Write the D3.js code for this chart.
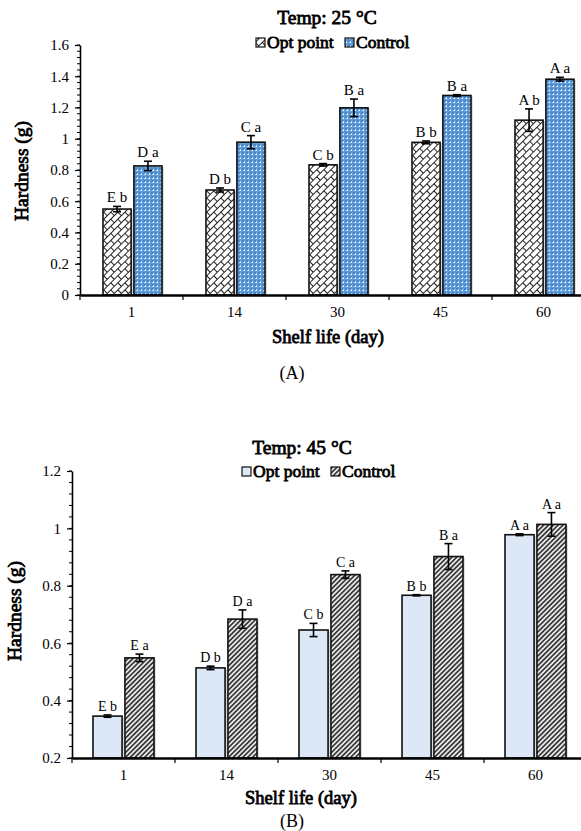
<!DOCTYPE html>
<html>
<head>
<meta charset="utf-8">
<script src="https://cdn.jsdelivr.net/npm/d3@7"></script>
<style>
  html, body { margin: 0; padding: 0; background: #fff; }
  svg { display: block; }
  text { font-family: "Liberation Serif", "Times New Roman", serif; fill: #000; }
  text.heavy { font-weight: normal; stroke: #000; stroke-width: 0.8px; paint-order: stroke; }
</style>
</head>
<body>
<svg id="chart" width="581" height="831"></svg>
<script>
// Shelf-life days (shared x categories)
const days = ["1", "14", "30", "45", "60"];
const seriesNames = ["Opt point", "Control"];

// Panel A: 25 °C
const optA = [0.55, 0.672, 0.833, 0.977, 1.119];
const optAErr = [0.017, 0.013, 0.008, 0.009, 0.072];
const ctrlA = [0.826, 0.978, 1.198, 1.277, 1.381];
const ctrlAErr = [0.03, 0.042, 0.056, 0.005, 0.012];
const optALetters = ["E b", "D b", "C b", "B b", "A b"];
const ctrlALetters = ["D a", "C a", "B a", "B a", "A a"];
const yTicksA = [0, 0.2, 0.4, 0.6, 0.8, 1, 1.2, 1.4, 1.6];

// Panel B: 45 °C
const optB = [0.346, 0.514, 0.646, 0.767, 0.978];
const optBErr = [0.004, 0.006, 0.023, 0.002, 0.003];
const ctrlB = [0.549, 0.684, 0.839, 0.902, 1.014];
const ctrlBErr = [0.013, 0.032, 0.013, 0.045, 0.041];
const optBLetters = ["E b", "D b", "C b", "B b", "A a"];
const ctrlBLetters = ["E a", "D a", "C a", "B a", "A a"];
const yTicksB = [0.2, 0.4, 0.6, 0.8, 1, 1.2];

const svg = d3.select("#chart");
const defs = svg.append("defs");

// Diagonal brick hatch
const brick = defs.append("pattern")
  .attr("id", "brick").attr("patternUnits", "userSpaceOnUse")
  .attr("width", 10).attr("height", 10)
  .attr("patternTransform", "rotate(-45)");
brick.append("rect").attr("width", 10).attr("height", 10).attr("fill", "#fff");
brick.append("path")
  .attr("d", "M0,0.5H10M0,5.5H10M0.5,0V5.5M5.5,5.5V10")
  .attr("stroke", "#222").attr("stroke-width", 1).attr("fill", "none");

// Blue dotted grid
const dots = defs.append("pattern")
  .attr("id", "bluedots").attr("patternUnits", "userSpaceOnUse")
  .attr("width", 4).attr("height", 4);
dots.append("rect").attr("width", 4).attr("height", 4).attr("fill", "#5d9ad8");
dots.append("rect").attr("x", 0).attr("y", 0).attr("width", 2).attr("height", 2).attr("fill", "#4a86c8");
dots.append("rect").attr("x", 2).attr("y", 2).attr("width", 1).attr("height", 1).attr("fill", "#ffffff");
dots.append("rect").attr("x", 1).attr("y", 2).attr("width", 1).attr("height", 1).attr("fill", "#a9cdf0");
dots.append("rect").attr("x", 2).attr("y", 1).attr("width", 1).attr("height", 1).attr("fill", "#a9cdf0");

// Dense dark diagonal stripes
const stripes = defs.append("pattern")
  .attr("id", "stripes").attr("patternUnits", "userSpaceOnUse")
  .attr("width", 3.4).attr("height", 3.4)
  .attr("patternTransform", "rotate(45)");
stripes.append("rect").attr("width", 3.4).attr("height", 3.4).attr("fill", "#e8e8e8");
stripes.append("rect").attr("width", 1.7).attr("height", 3.4).attr("fill", "#3a3a3a");

function panel(cfg) {
  const g = svg.append("g");
  const x = d3.scaleBand().domain(days).range([cfg.x0, cfg.x0 + 5 * cfg.cw]);
  const y = d3.scaleLinear().domain(cfg.yDomain).range([cfg.yBottom, cfg.yTop]);
  const inner = d3.scaleBand().domain(seriesNames).range([0, cfg.groupW]).paddingInner(0.09);

  const rows = days.map((d, i) => ({
    day: d,
    vals: [
      { s: seriesNames[0], v: cfg.opt[i], e: cfg.optErr[i], lab: cfg.optLab[i], fill: cfg.fills[0] },
      { s: seriesNames[1], v: cfg.ctrl[i], e: cfg.ctrlErr[i], lab: cfg.ctrlLab[i], fill: cfg.fills[1] }
    ]
  }));

  const groups = g.selectAll("g.grp").data(rows).join("g")
    .attr("transform", d => `translate(${x(d.day) + (x.bandwidth() - cfg.groupW) / 2 + cfg.shift},0)`);

  const bars = groups.selectAll("g.bar").data(d => d.vals).join("g");
  // soft shadow
  bars.append("rect")
    .attr("x", d => inner(d.s) + 1.5).attr("y", d => y(d.v) + 1)
    .attr("width", inner.bandwidth()).attr("height", d => y(cfg.yDomain[0]) - y(d.v) - 1)
    .attr("fill", "#bdbdbd");
  bars.append("rect")
    .attr("x", d => inner(d.s)).attr("y", d => y(d.v))
    .attr("width", inner.bandwidth()).attr("height", d => y(cfg.yDomain[0]) - y(d.v))
    .attr("fill", d => d.fill).attr("stroke", "#111").attr("stroke-width", 1.6);

  // error bars
  const cx = d => inner(d.s) + inner.bandwidth() / 2;
  bars.append("line")
    .attr("x1", cx).attr("x2", cx)
    .attr("y1", d => y(d.v + d.e)).attr("y2", d => y(d.v - d.e))
    .attr("stroke", "#000").attr("stroke-width", 1.6);
  bars.append("line")
    .attr("x1", d => cx(d) - 4).attr("x2", d => cx(d) + 4)
    .attr("y1", d => y(d.v + d.e)).attr("y2", d => y(d.v + d.e))
    .attr("stroke", "#000").attr("stroke-width", 1.6);
  bars.append("line")
    .attr("x1", d => cx(d) - 4).attr("x2", d => cx(d) + 4)
    .attr("y1", d => y(d.v - d.e)).attr("y2", d => y(d.v - d.e))
    .attr("stroke", "#000").attr("stroke-width", 1.6);

  // significance letters
  bars.append("text")
    .attr("x", cx).attr("y", d => y(d.v + d.e) - 4)
    .attr("text-anchor", "middle").attr("font-size", cfg.labSize)
    .text(d => d.lab);

  // y axis with minor ticks
  const minor = d3.range(cfg.yDomain[0], cfg.yDomain[1] + 1e-9, 0.04);
  g.append("g").selectAll("line").data(minor).join("line")
    .attr("x1", cfg.x0 - 3).attr("x2", cfg.x0)
    .attr("y1", d => y(d)).attr("y2", d => y(d))
    .attr("stroke", "#000").attr("stroke-width", 1);
  const yAxis = g.append("g").attr("transform", `translate(${cfg.x0},0)`)
    .call(d3.axisLeft(y).tickValues(cfg.yTicks).tickFormat(d => String(+d.toFixed(1))).tickSizeInner(5).tickSizeOuter(0).tickPadding(6));
  yAxis.select(".domain").attr("stroke-width", 1.6);
  yAxis.selectAll(".tick line").attr("stroke-width", 1.2);
  yAxis.selectAll(".tick text").attr("font-size", 15).attr("font-family", "Liberation Serif");

  // x axis: labels at category centres, ticks at category edges
  const xAxis = g.append("g").attr("transform", `translate(0,${cfg.yBottom})`)
    .call(d3.axisBottom(x).tickSize(0).tickPadding(11));
  xAxis.select(".domain").attr("stroke-width", 2.4);
  xAxis.selectAll(".tick text").attr("font-size", 15).attr("font-family", "Liberation Serif");
  const edges = d3.range(0, 6).map(i => cfg.x0 + i * cfg.cw);
  g.append("g").selectAll("line").data(edges).join("line")
    .attr("x1", d => d).attr("x2", d => d)
    .attr("y1", cfg.yBottom).attr("y2", cfg.yBottom + 5)
    .attr("stroke", "#000").attr("stroke-width", 1.2);

  // titles
  g.append("text").attr("class", "heavy").attr("x", cfg.titleX).attr("y", cfg.titleY)
    .attr("text-anchor", "middle").attr("font-size", 19.5)
    .text(cfg.title);
  g.append("text").attr("class", "heavy").attr("x", cfg.xTitleX).attr("y", cfg.xTitleY)
    .attr("text-anchor", "middle").attr("font-size", 18.5)
    .text("Shelf life (day)");
  g.append("text").attr("class", "heavy")
    .attr("transform", `translate(${cfg.yTitleX},${cfg.yTitleY}) rotate(-90)`)
    .attr("text-anchor", "middle").attr("font-size", 19.5)
    .text("Hardness (g)");
  g.append("text").attr("x", 292).attr("y", cfg.capY)
    .attr("text-anchor", "middle").attr("font-size", 18)
    .text(cfg.caption);

  // legend
  const leg = g.append("g");
  seriesNames.forEach((s, i) => {
    const lx = cfg.legX[i];
    leg.append("rect").attr("x", lx).attr("y", cfg.legY - 10).attr("width", 9).attr("height", 9)
      .attr("fill", cfg.fills[i]).attr("stroke", "#111").attr("stroke-width", 1.2);
    leg.append("text").attr("class", "heavy").attr("x", lx + 11).attr("y", cfg.legY)
      .attr("font-size", 17.5).text(s);
  });
}

panel({
  x0: 80, cw: 103, groupW: 59, shift: 1,
  yDomain: [0, 1.6], yTop: 45, yBottom: 295, yTicks: yTicksA,
  opt: optA, optErr: optAErr, ctrl: ctrlA, ctrlErr: ctrlAErr,
  optLab: optALetters, ctrlLab: ctrlALetters,
  fills: ["url(#brick)", "url(#bluedots)"], labSize: 15,
  title: "Temp: 25 °C", titleX: 327, titleY: 24,
  legX: [256, 345], legY: 48,
  xTitleX: 328, xTitleY: 343,
  yTitleX: 28, yTitleY: 171,
  caption: "(A)", capY: 379
});

panel({
  x0: 72, cw: 103, groupW: 61, shift: 0,
  yDomain: [0.2, 1.2], yTop: 471, yBottom: 758, yTicks: yTicksB,
  opt: optB, optErr: optBErr, ctrl: ctrlB, ctrlErr: ctrlBErr,
  optLab: optBLetters, ctrlLab: ctrlBLetters,
  fills: ["#dce8f5", "url(#stripes)"], labSize: 14,
  title: "Temp: 45 °C", titleX: 302, titleY: 454,
  legX: [242, 331], legY: 477,
  xTitleX: 301, xTitleY: 804,
  yTitleX: 21, yTitleY: 611,
  caption: "(B)", capY: 827
});
</script>
</body>
</html>
